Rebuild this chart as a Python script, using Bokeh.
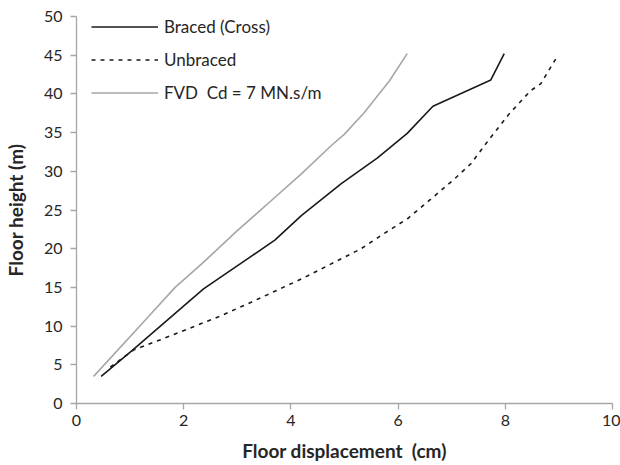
from bokeh.plotting import figure
from bokeh.models import Range1d, FixedTicker, Legend, LegendItem
from bokeh.embed import file_html
from bokeh.resources import INLINE

# Data
braced_x = [0.46, 1.03, 2.37, 3.70, 4.20, 4.94, 5.61, 6.17, 6.65, 7.73, 7.98]
braced_y = [3.5, 6.8, 14.8, 21.1, 24.3, 28.4, 31.7, 34.9, 38.4, 41.8, 45.2]

unbraced_x = [0.63, 1.06, 1.59, 2.65, 3.20, 4.20, 5.31, 5.68, 6.18, 6.61, 7.05, 7.36, 7.73, 8.07, 8.47, 8.66, 8.94]
unbraced_y = [4.7, 6.9, 8.3, 11.2, 12.9, 16.1, 20.0, 21.7, 23.9, 26.4, 29.0, 31.0, 34.4, 37.4, 40.4, 41.3, 44.5]

fvd_x = [0.32, 1.34, 1.84, 2.33, 2.98, 3.6, 4.20, 4.75, 5.0, 5.37, 5.84, 6.17]
fvd_y = [3.5, 11.2, 15.0, 18.0, 22.2, 26.0, 29.7, 33.3, 34.8, 37.6, 41.7, 45.2]

x_ticks = [0, 2, 4, 6, 8, 10]
y_ticks = [0, 5, 10, 15, 20, 25, 30, 35, 40, 45, 50]

labels = ["Braced (Cross)", "Unbraced", "FVD  Cd = 7 MN.s/m"]

FONT = "Lato"
TXT = "#262626"
AXC = "#a6a6a6"

p = figure(width=620, height=465, output_backend="svg", toolbar_location=None,
           x_range=Range1d(0, 10), y_range=Range1d(0, 50),
           min_border_left=73, min_border_right=8, min_border_top=16, min_border_bottom=62)
p.outline_line_color = None
p.xgrid.visible = False
p.ygrid.visible = False
p.background_fill_color = "white"

r1 = p.line(braced_x, braced_y, line_color="#1a1a1a", line_width=1.6)
r2 = p.line(unbraced_x, unbraced_y, line_color="#1a1a1a", line_width=1.6, line_dash="4 5")
r3 = p.line(fvd_x, fvd_y, line_color="#a6a6a6", line_width=1.6)

for ax in (p.xaxis[0], p.yaxis[0]):
    ax.axis_line_color = AXC
    ax.axis_line_width = 1.3
    ax.major_tick_line_color = AXC
    ax.major_tick_line_width = 1.3
    ax.major_tick_out = 6
    ax.major_tick_in = 0
    ax.minor_tick_line_color = None
    ax.major_label_text_font = FONT
    ax.major_label_text_font_size = "16px"
    ax.major_label_text_color = TXT
    ax.axis_label_text_font = FONT
    ax.axis_label_text_font_size = "19px"
    ax.axis_label_text_font_style = "bold"
    ax.axis_label_text_color = TXT

p.xaxis[0].major_label_standoff = 5
p.yaxis[0].major_label_standoff = 8
p.xaxis[0].ticker = FixedTicker(ticks=x_ticks)
p.yaxis[0].ticker = FixedTicker(ticks=y_ticks)
p.xaxis[0].axis_label = "Floor displacement\u00a0 (cm)"
p.yaxis[0].axis_label = "Floor height (m)"
p.xaxis[0].axis_label_standoff = 10
p.yaxis[0].axis_label_standoff = 14

legend = Legend(items=[LegendItem(label=labels[0], renderers=[r1]),
                       LegendItem(label=labels[1], renderers=[r2]),
                       LegendItem(label=labels[2], renderers=[r3])],
                location=(15, 300), margin=0, padding=0, spacing=12,
                glyph_width=67, glyph_height=21, label_height=21, label_standoff=6,
                background_fill_alpha=0, border_line_color=None,
                label_text_font=FONT, label_text_font_size="17px", label_text_color=TXT)
p.add_layout(legend, "center")

open("out.html", "w").write(file_html(p, INLINE))
